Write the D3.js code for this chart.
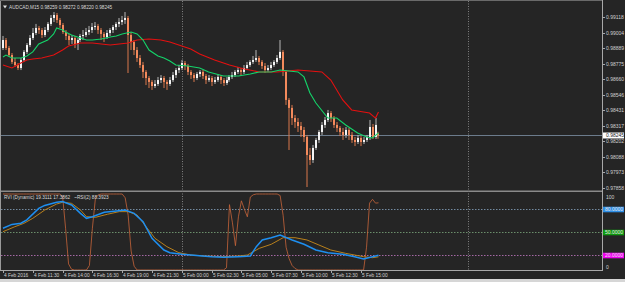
<!DOCTYPE html>
<html><head><meta charset="utf-8">
<script src="https://cdn.jsdelivr.net/npm/d3@7"></script>
<style>html,body{margin:0;padding:0;background:#252525;overflow:hidden}svg{display:block}</style>
</head><body><svg id="c" width="625" height="282"></svg>
<script>
const symbol = "AUDCAD,M15";
const open = [
0.98891,0.98950,0.98891,0.98839,0.98788,0.98765,0.98743,0.98802,0.98862,0.98913,
0.98965,0.99002,0.99039,0.99024,0.98987,0.99024,0.99069,0.99113,0.99135,0.99098,
0.99061,0.99009,0.98980,0.98950,0.98965,0.98921,0.98950,0.98980,0.98987,0.99009,
0.99024,0.99046,0.99054,0.99024,0.98995,0.98972,0.99002,0.99024,0.99046,0.99069,
0.99083,0.99098,0.99113,0.98987,0.98935,0.98876,0.98817,0.98765,0.98714,0.98669,
0.98640,0.98610,0.98625,0.98654,0.98669,0.98640,0.98625,0.98654,0.98691,0.98728,
0.98743,0.98780,0.98758,0.98714,0.98691,0.98669,0.98699,0.98714,0.98684,0.98654,
0.98669,0.98640,0.98654,0.98677,0.98654,0.98632,0.98654,0.98677,0.98691,0.98714,
0.98728,0.98714,0.98743,0.98765,0.98788,0.98802,0.98817,0.98788,0.98758,0.98728,
0.98743,0.98765,0.98788,0.98817,0.98862,0.98714,0.98507,0.98448,0.98373,0.98344,
0.98314,0.98285,0.98233,0.98100,0.98063,0.98152,0.98211,0.98270,0.98322,0.98359,
0.98410,0.98373,0.98322,0.98300,0.98270,0.98248,0.98285,0.98248,0.98211,0.98196,
0.98226,0.98196,0.98211,0.98233,0.98307,0.98233,0.98259];
const high = [
0.98980,0.98965,0.98906,0.98854,0.98817,0.98780,0.98817,0.98876,0.98928,0.98987,
0.99039,0.99069,0.99054,0.99039,0.99046,0.99083,0.99135,0.99157,0.99150,0.99113,
0.99076,0.99024,0.98995,0.98987,0.98980,0.98965,0.98995,0.99024,0.99039,0.99054,
0.99076,0.99083,0.99069,0.99039,0.99009,0.99024,0.99039,0.99061,0.99083,0.99113,
0.99128,0.99157,0.99128,0.99009,0.98950,0.98898,0.98839,0.98788,0.98728,0.98684,
0.98654,0.98654,0.98677,0.98691,0.98684,0.98654,0.98677,0.98714,0.98743,0.98765,
0.98802,0.98795,0.98773,0.98728,0.98706,0.98714,0.98728,0.98728,0.98699,0.98691,
0.98684,0.98677,0.98699,0.98691,0.98669,0.98677,0.98691,0.98714,0.98728,0.98751,
0.98743,0.98765,0.98788,0.98802,0.98832,0.98876,0.98832,0.98802,0.98780,0.98765,
0.98788,0.98802,0.98839,0.98950,0.98876,0.98728,0.98521,0.98470,0.98396,0.98373,
0.98344,0.98307,0.98248,0.98152,0.98174,0.98226,0.98285,0.98344,0.98381,0.98433,
0.98425,0.98388,0.98344,0.98314,0.98300,0.98307,0.98300,0.98270,0.98233,0.98248,
0.98240,0.98233,0.98248,0.98359,0.98329,0.98373,0.98272];
const low = [
0.98876,0.98876,0.98825,0.98773,0.98751,0.98728,0.98728,0.98788,0.98847,0.98898,
0.98950,0.98987,0.98995,0.98965,0.98972,0.99009,0.99054,0.99083,0.99076,0.99039,
0.98995,0.98950,0.98913,0.98921,0.98891,0.98876,0.98935,0.98950,0.98972,0.98987,
0.99002,0.99024,0.98995,0.98950,0.98935,0.98958,0.98980,0.99002,0.99024,0.99046,
0.99061,0.99069,0.98706,0.98876,0.98839,0.98788,0.98743,0.98669,0.98617,0.98595,
0.98581,0.98595,0.98610,0.98632,0.98595,0.98581,0.98610,0.98640,0.98669,0.98706,
0.98728,0.98728,0.98691,0.98662,0.98640,0.98654,0.98677,0.98662,0.98625,0.98640,
0.98610,0.98625,0.98640,0.98625,0.98610,0.98617,0.98640,0.98662,0.98677,0.98699,
0.98684,0.98699,0.98728,0.98751,0.98773,0.98788,0.98765,0.98736,0.98706,0.98714,
0.98728,0.98751,0.98773,0.98802,0.98684,0.98470,0.98137,0.98322,0.98300,0.98270,
0.98233,0.98196,0.97863,0.98026,0.98041,0.98137,0.98189,0.98248,0.98300,0.98344,
0.98344,0.98300,0.98270,0.98240,0.98211,0.98226,0.98211,0.98189,0.98166,0.98181,
0.98166,0.98181,0.98196,0.98211,0.98218,0.98218,0.98220];
const close = [
0.98950,0.98891,0.98839,0.98788,0.98765,0.98743,0.98802,0.98862,0.98913,0.98965,
0.99002,0.99039,0.99024,0.98987,0.99024,0.99069,0.99113,0.99135,0.99098,0.99061,
0.99009,0.98980,0.98950,0.98965,0.98921,0.98950,0.98980,0.98987,0.99009,0.99024,
0.99046,0.99054,0.99024,0.98995,0.98972,0.99002,0.99024,0.99046,0.99069,0.99083,
0.99098,0.99113,0.98987,0.98935,0.98876,0.98817,0.98765,0.98714,0.98669,0.98640,
0.98610,0.98625,0.98654,0.98669,0.98640,0.98625,0.98654,0.98691,0.98728,0.98743,
0.98780,0.98758,0.98714,0.98691,0.98669,0.98699,0.98714,0.98684,0.98654,0.98669,
0.98640,0.98654,0.98677,0.98654,0.98632,0.98654,0.98677,0.98691,0.98714,0.98728,
0.98714,0.98743,0.98765,0.98788,0.98802,0.98817,0.98788,0.98758,0.98728,0.98743,
0.98765,0.98788,0.98817,0.98862,0.98714,0.98507,0.98448,0.98373,0.98344,0.98314,
0.98285,0.98233,0.98100,0.98063,0.98152,0.98211,0.98270,0.98322,0.98359,0.98410,
0.98373,0.98322,0.98300,0.98270,0.98248,0.98285,0.98248,0.98211,0.98196,0.98226,
0.98196,0.98211,0.98233,0.98307,0.98233,0.98322,0.98245];

const fastIdx = [0,1,3,6,8,10,12,15,17,18,20,21,23,26,28,30,33,36,38,40,43,45,47,49,52,54,56,58,62,66,69,74,79,83,86,90,93,99,101,103,105,109,112,115,119,122,124,126];
const fastVal = [0.98825,0.98839,0.98817,0.98817,0.98832,0.98862,0.98921,0.98950,0.98995,0.99039,0.99024,0.99009,0.98987,0.98965,0.98950,0.98950,0.98958,0.98972,0.98980,0.98995,0.99009,0.98995,0.98950,0.98876,0.98832,0.98817,0.98795,0.98765,0.98758,0.98743,0.98714,0.98684,0.98684,0.98699,0.98714,0.98714,0.98728,0.98714,0.98677,0.98558,0.98484,0.98373,0.98373,0.98322,0.98263,0.98233,0.98226,0.98263];
const slowIdx = [0,3,6,8,10,13,17,20,22,26,30,36,42,45,49,53,56,59,63,66,71,76,81,86,92,99,103,107,110,114,117,121,123,125,126];
const slowVal = [0.98765,0.98743,0.98780,0.98802,0.98810,0.98817,0.98839,0.98876,0.98906,0.98928,0.98928,0.98913,0.98928,0.98950,0.98958,0.98950,0.98935,0.98913,0.98884,0.98847,0.98802,0.98765,0.98736,0.98714,0.98714,0.98728,0.98721,0.98714,0.98654,0.98507,0.98433,0.98418,0.98410,0.98373,0.98418];

const rviIdx = [0,3,6,8,12,14,18,20,23,26,28,30,34,38,41,44,47,50,54,56,60,66,70,74,79,83,85,87,90,93,97,101,105,109,114,118,121,124,126];
const rviMain = [55,60,61.5,66,81,85,89,90,85.5,74.5,68,70,76,77.6,79,74.5,63.5,41.7,26.3,22.8,20.7,18.8,17.5,16.7,17.5,18.4,30.7,39.5,42.5,46.1,39.5,33.8,26.3,22.8,20.7,17.5,14.5,17.5,19.3111];
const sigIdx = [0,4,7,10,14,18,20,23,26,28,31,35,39,42,45,48,51,55,59,63,68,74,79,82,86,90,94,98,102,106,110,115,121,124,126];
const rviSignal = [50.4,57,61.4,68,78.9,86.8,89.1,87.7,78.9,70.2,69.3,73.3,76.8,76.8,72.4,57,41.7,30.7,22.8,19.7,18.4,17.5,18.4,19.7,28.5,33.8,42.5,42.5,39.5,32.9,26.3,21.9,17.5,16.2,17.3862];
const rsi2 = [
100,100,100,100,100,100,100,100,100,100,
100,100,100,100,100,100,100,100,100,100,
97,55,8,1,0,0,0,0,0,6,
55,94,99,100,100,100,100,100,100,100,
100,95,72,25,5,0,0,0,0,0,
0,0,0,0,0,0,0,0,0,0,
0,0,0,0,0,0,0,0,0,0,
0,0,0,0,0,3,86,62,32,70,
91,80,70,96,99,100,100,100,100,100,
100,100,100,98,72,30,15,6,2,0,
0,0,0,0,0,0,0,0,0,0,
0,0,0,0,0,0,0,0,0,0,
0,0,30,88,93,88,88.3923];

const timeLabels = ["4 Feb 2016","4 Feb 11:30","4 Feb 14:00","4 Feb 16:30","4 Feb 19:00","4 Feb 21:30","5 Feb 00:00","5 Feb 02:30","5 Feb 05:00","5 Feb 07:30","5 Feb 10:00","5 Feb 12:30","5 Feb 15:00"];
const timeLabelBars = [0,10,20,30,40,50,60,70,80,90,100,110,120];
const daySeparatorBars = [60,156];
const priceTicks = [0.99118,0.99004,0.98889,0.98775,0.98660,0.98546,0.98431,0.98317,0.98202,0.98088,0.97973,0.97858];
const currentPrice = 0.98245;
const levels = [80,50,20];
const levelColors = ["#2f8fe6","#0f9a0f","#f000f0"];
const indTicks = [100,0];
const rviLabel = "RVI (Dynamic) 19.3111 17.3862";
const rsiLabel = "~RSI(2) 88.3923";

const W=625,H=282, axisX=602, mainTop=2, mainBot=190, indTop=192, indBot=270;
const FONT='"Liberation Sans", Arial, sans-serif';
const svg=d3.select("#c");
svg.append("rect").attr("width",W).attr("height",H).attr("fill","#252525");

const x=d3.scaleLinear().domain([timeLabelBars[0],timeLabelBars[timeLabelBars.length-1]]).range([3,360.6]);
const y=d3.scaleLinear().domain([priceTicks[priceTicks.length-1],priceTicks[0]]).range([187.7,17.3]);
const yi=d3.scaleLinear().domain([0,100]).range([indBot,194]);

// clip paths
const defs=svg.append("defs");
defs.append("clipPath").attr("id","cm").append("rect").attr("x",1).attr("y",mainTop).attr("width",axisX-1).attr("height",mainBot-mainTop);
defs.append("clipPath").attr("id","ci").append("rect").attr("x",1).attr("y",indTop+1).attr("width",axisX-1).attr("height",indBot-indTop-1);

// frame
svg.append("rect").attr("x",0).attr("y",0).attr("width",1).attr("height",indBot).attr("fill","#9a9a9a");
svg.append("rect").attr("x",0).attr("y",0).attr("width",axisX).attr("height",1).attr("fill","#6a6a6a");
svg.append("rect").attr("x",1).attr("y",190.5).attr("width",axisX-1).attr("height",1.5).attr("fill","#8a8a8a");
svg.append("rect").attr("x",axisX).attr("y",0).attr("width",1).attr("height",indBot+1).attr("fill","#a8a8a8");
svg.append("rect").attr("x",0).attr("y",indBot).attr("width",axisX+1).attr("height",1).attr("fill","#a8a8a8");
svg.append("rect").attr("x",0).attr("y",279).attr("width",W).attr("height",3).attr("fill","#d6d6d6");

// day separators
daySeparatorBars.forEach(b=>{
  svg.append("line").attr("x1",Math.round(x(b))+0.5).attr("x2",Math.round(x(b))+0.5).attr("y1",1).attr("y2",indBot)
    .attr("stroke","#808080").attr("stroke-width",1).attr("stroke-dasharray","1,1.5");
});

// indicator levels
levels.forEach((l,k)=>{
  svg.append("line").attr("x1",1).attr("x2",axisX).attr("y1",Math.round(yi(l))+0.5).attr("y2",Math.round(yi(l))+0.5)
    .attr("stroke",d3.interpolateRgb("#8a8a8a",levelColors[k])(0.25)).attr("stroke-width",1).attr("stroke-dasharray","1.5,1.5");
});

// current price line
svg.append("line").attr("x1",1).attr("x2",axisX).attr("y1",Math.round(y(currentPrice))+0.5).attr("y2",Math.round(y(currentPrice))+0.5)
  .attr("stroke","#6c7c8c").attr("stroke-width",1);

// candles
const gm=svg.append("g").attr("clip-path","url(#cm)");
const idx=d3.range(close.length);
idx.forEach(i=>{
  const cx=Math.round(x(i)); const bull=close[i]>=open[i];
  gm.append("rect").attr("x",cx-0.5).attr("width",1).attr("y",y(high[i])).attr("height",Math.max(0.5,y(low[i])-y(high[i])))
    .attr("fill",bull?"#b8b8b8":"#d9794c");
  const t=y(Math.max(open[i],close[i])), b=y(Math.min(open[i],close[i]));
  gm.append("rect").attr("x",cx-1).attr("width",2).attr("y",t).attr("height",Math.max(1,b-t))
    .attr("fill",bull?"#f4f4f4":"#f38a5c");
});

// moving averages
const lineP=d3.line().x(d=>x(d[0])).y(d=>y(d[1]));
gm.append("path").attr("d",lineP(slowIdx.map((b,k)=>[b,slowVal[k]]))).attr("fill","none").attr("stroke","#e41010").attr("stroke-width",1.1);
gm.append("path").attr("d",lineP(fastIdx.map((b,k)=>[b,fastVal[k]]))).attr("fill","none").attr("stroke","#14d46a").attr("stroke-width",1.1);

// indicator lines
const gi=svg.append("g").attr("clip-path","url(#ci)");
const lineI=d3.line().x(d=>x(d[0])).y(d=>yi(d[1]));
gi.append("path").attr("d",lineI(rsi2.map((v,i)=>[i,v]))).attr("fill","none").attr("stroke","#c8643a").attr("stroke-width",0.8);
gi.append("path").attr("d",lineI(sigIdx.map((b,k)=>[b,rviSignal[k]]))).attr("fill","none").attr("stroke","#b8801c").attr("stroke-width",1);
gi.append("path").attr("d",lineI(rviIdx.map((b,k)=>[b,rviMain[k]]))).attr("fill","none").attr("stroke","#1e8ff0").attr("stroke-width",1.5);

// title
svg.append("path").attr("d","M3,5.5 L7,5.5 L5,8.5 Z").attr("fill","#e0e0e0");
const last=close.length-1;
const f5=d3.format(".5f");
svg.append("text").attr("x",9).attr("y",8.6).attr("font-family",FONT).attr("font-size",4.7).attr("fill","#d8d8d8")
  .text(`${symbol}  ${f5(open[last])} ${f5(high[last])} ${f5(low[last])} ${f5(close[last])}`);
svg.append("text").attr("x",4).attr("y",199).attr("font-family",FONT).attr("font-size",4.7).attr("fill","#d8d8d8")
  .text(rviLabel).append("tspan").attr("dx",4).text(rsiLabel);

// price axis
priceTicks.forEach(p=>{
  const yy=Math.round(y(p))+0.5;
  svg.append("line").attr("x1",axisX+1).attr("x2",axisX+3).attr("y1",yy).attr("y2",yy).attr("stroke","#a8a8a8");
  svg.append("text").attr("x",axisX+4).attr("y",yy+1.8).attr("font-family",FONT).attr("font-size",5).attr("fill","#d0d0d0").text(f5(p));
});
const cy=Math.round(y(currentPrice))+0.5;
svg.append("rect").attr("x",axisX+1).attr("y",cy-3).attr("width",W-axisX-2).attr("height",6).attr("fill","#ffffff");
svg.append("text").attr("x",axisX+4).attr("y",cy+1.8).attr("font-family",FONT).attr("font-size",5).attr("fill","#202020").text(f5(currentPrice));

// indicator axis
svg.append("text").attr("x",axisX+4).attr("y",yi(100)+4.5).attr("font-family",FONT).attr("font-size",5).attr("fill","#d0d0d0").text(indTicks[0]);
svg.append("text").attr("x",axisX+4).attr("y",yi(0)-1.5).attr("font-family",FONT).attr("font-size",5).attr("fill","#d0d0d0").text(indTicks[1]);
levels.forEach((l,k)=>{
  const yy=Math.round(yi(l))+0.5;
  svg.append("rect").attr("x",axisX+1).attr("y",yy-2.8).attr("width",W-axisX-2).attr("height",5.6).attr("fill",levelColors[k]);
  svg.append("text").attr("x",axisX+3).attr("y",yy+1.8).attr("font-family",FONT).attr("font-size",5).attr("fill","#e8e8e8").text(d3.format(".4f")(l));
});

// time axis
timeLabelBars.forEach((b,k)=>{
  const xx=Math.round(x(b))+0.5;
  svg.append("line").attr("x1",xx).attr("x2",xx).attr("y1",indBot+1).attr("y2",indBot+3).attr("stroke","#a8a8a8");
  svg.append("text").attr("x",xx+0.5).attr("y",276.5).attr("font-family",FONT).attr("font-size",4.8).attr("fill","#d0d0d0").text(timeLabels[k]);
});
</script></body></html>
